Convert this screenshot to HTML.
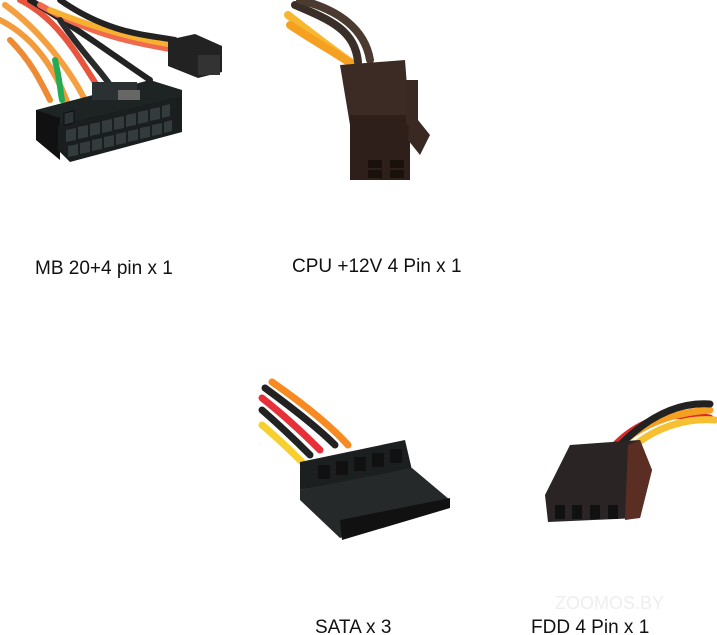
<!DOCTYPE html>
<html><head><style>
html,body{margin:0;padding:0;background:#fff;width:717px;height:635px;overflow:hidden}
svg{position:absolute;left:0;top:0}
.t{font-family:"Liberation Sans",sans-serif;font-size:19px;fill:#111}
</style></head><body>
<svg width="717" height="635" viewBox="0 0 717 635">
<!-- MB cables -->
<g fill="none" stroke-width="6" stroke-linecap="round">
<path d="M0 20 C40 40 60 80 70 110" stroke="#f29a3c"/>
<path d="M5 5 C40 30 70 70 85 100" stroke="#f5a040"/>
<path d="M20 0 C60 20 80 60 100 90" stroke="#e8543c"/>
<path d="M30 0 C80 30 120 60 150 80" stroke="#222"/>
<path d="M40 5 C100 40 150 45 175 50" stroke="#f06a50"/>
<path d="M50 10 C100 30 140 40 175 45" stroke="#f7b030"/>
<path d="M60 0 C110 35 150 35 175 40" stroke="#222"/>
<path d="M10 40 C30 60 40 80 50 100" stroke="#ee8a34"/>
<path d="M60 20 C80 50 100 70 110 85" stroke="#2a2a2a"/>
<path d="M55 60 C60 80 60 90 62 100" stroke="#22aa55"/>
</g>
<!-- MB connector -->
<polygon points="36,110 150,80 182,90 182,105 60,130 36,125" fill="#1e2324"/>
<polygon points="36,110 60,118 60,160 36,140" fill="#111"/>
<polygon points="58,125 182,96 182,132 70,162 58,150" fill="#1a1e1f"/>
<g fill="#2e3536" stroke="#0c0e0e" stroke-width="1">
<rect x="64" y="128" width="10" height="12" transform="skewY(-13)"/>
</g>
<g fill="#333b3c">
<path d="M66 130 l10 -2 v12 l-10 2z M78 127 l10 -2 v12 l-10 2z M90 124 l10 -2 v12 l-10 2z M102 121 l10 -2 v12 l-10 2z M114 118 l10 -2 v12 l-10 2z M126 115 l10 -2 v12 l-10 2z M138 112 l10 -2 v12 l-10 2z M150 109 l10 -2 v12 l-10 2z M162 106 l8 -2 v12 l-8 2z"/>
<path d="M68 146 l10 -2 v11 l-10 2z M80 143 l10 -2 v11 l-10 2z M92 140 l10 -2 v11 l-10 2z M104 137 l10 -2 v11 l-10 2z M116 134 l10 -2 v11 l-10 2z M128 131 l10 -2 v11 l-10 2z M140 128 l10 -2 v11 l-10 2z M152 125 l10 -2 v11 l-10 2z M164 122 l8 -2 v11 l-8 2z"/>
</g>
<rect x="92" y="82" width="45" height="18" fill="#2b3132"/>
<rect x="118" y="90" width="22" height="10" fill="#666"/>
<polygon points="168,40 195,34 222,46 222,72 198,78 168,66" fill="#222"/>
<rect x="198" y="55" width="22" height="20" fill="#333"/>
<!-- CPU cables -->
<g fill="none" stroke-width="8" stroke-linecap="round">
<path d="M288 15 C320 40 340 55 355 65" stroke="#f7b830"/>
<path d="M290 25 C320 45 340 55 360 70" stroke="#f5a020"/>
<path d="M295 5 C330 20 355 30 358 62" stroke="#3a2e28"/>
<path d="M300 0 C340 10 365 30 370 60" stroke="#4a3a30"/>
</g>
<polygon points="340,65 405,60 410,125 350,125" fill="#3c2a24"/>
<rect x="350" y="115" width="60" height="65" fill="#2e1f1a"/>
<rect x="406" y="80" width="12" height="45" fill="#3a2822"/>
<polygon points="410,110 430,135 420,155 408,140" fill="#3a2822"/>
<g fill="#1a100c"><rect x="368" y="160" width="14" height="8"/><rect x="390" y="160" width="14" height="8"/><rect x="368" y="170" width="14" height="8"/><rect x="390" y="170" width="14" height="8"/></g>
<text class="t" x="35" y="274">MB 20+4 pin x 1</text>
<text class="t" x="292" y="272">CPU +12V 4 Pin x 1</text>
<!-- SATA cables -->
<g fill="none" stroke-width="7" stroke-linecap="round">
<path d="M262 425 C280 440 295 455 305 465" stroke="#f7d030"/>
<path d="M262 410 C285 430 300 445 310 455" stroke="#222"/>
<path d="M262 398 C290 420 310 440 320 450" stroke="#e6303a"/>
<path d="M265 388 C295 410 320 430 335 445" stroke="#222"/>
<path d="M272 382 C305 405 330 425 348 445" stroke="#f78a20"/>
</g>
<polygon points="300,462 405,440 412,470 300,490" fill="#1c1f20"/>
<polygon points="300,490 412,468 450,500 340,538 300,500" fill="#26292a"/>
<polygon points="340,520 450,498 450,508 342,540" fill="#111"/>
<g fill="#111"><rect x="318" y="465" width="12" height="14"/><rect x="336" y="461" width="12" height="14"/><rect x="354" y="457" width="12" height="14"/><rect x="372" y="453" width="12" height="14"/><rect x="390" y="449" width="12" height="14"/></g>
<!-- FDD -->
<g fill="none" stroke-width="7" stroke-linecap="round">
<path d="M615 445 C640 420 670 410 710 418" stroke="#d82a2a"/>
<path d="M625 440 C650 420 680 412 710 410" stroke="#f5a020"/>
<path d="M635 445 C660 425 690 418 715 420" stroke="#f7c030"/>
<path d="M620 445 C650 415 680 402 710 404" stroke="#222"/>
</g>
<polygon points="570,445 640,440 652,470 640,518 548,522 545,495" fill="#2a2524"/>
<polygon points="640,440 652,470 640,518 625,520 628,445" fill="#5a2e22"/>
<g fill="#111"><rect x="555" y="505" width="10" height="14"/><rect x="572" y="505" width="10" height="14"/><rect x="590" y="505" width="10" height="14"/><rect x="608" y="505" width="10" height="14"/></g>
<text x="555" y="609" font-family="Liberation Sans,sans-serif" font-size="18" fill="#eee">ZOOMOS.BY</text>
<text class="t" x="315" y="633">SATA x 3</text>
<text class="t" x="531" y="633">FDD 4 Pin x 1</text>
</svg>
</body></html>
